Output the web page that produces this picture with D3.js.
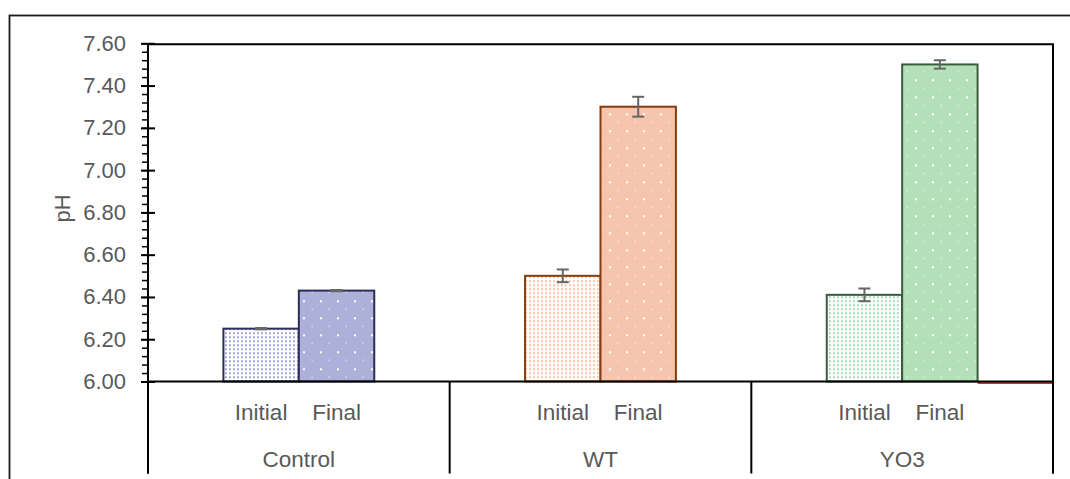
<!DOCTYPE html>
<html>
<head>
<meta charset="utf-8">
<script src="https://cdn.jsdelivr.net/npm/d3@7"></script>
<style>
  body { margin: 0; background: #fff; }
  svg { display: block; font-family: "Liberation Sans", Arial, sans-serif; }
  .tick-label, .cat-label, .axis-title { fill: #595959; }
</style>
</head>
<body>
<svg id="chart"></svg>
<script>
// Data
const categories = ['Control', 'WT', 'YO3'];
const seriesNames = ['Initial', 'Final'];
const initialValues = [6.25, 6.50, 6.41];
const finalValues = [6.43, 7.30, 7.50];
const initialErrors = [0.003, 0.03, 0.03];
const finalErrors = [0.003, 0.047, 0.02];
const yTicks = [6.00, 6.20, 6.40, 6.60, 6.80, 7.00, 7.20, 7.40, 7.60];
const yTickLabels = ['6.00', '6.20', '6.40', '6.60', '6.80', '7.00', '7.20', '7.40', '7.60'];

// Colours per category: outline, solid fill (Final), dot colour (Initial)
const strokeColors = ['#2b2f58', '#843c0c', '#385d3c'];
const fillColors = ['#adb0d8', '#f7c4ae', '#b3e0b9'];
const dotColors = ['#8f93c9', '#f4b899', '#96d3a0'];

class GroupedBarChart {

  constructor(_config) {
    this.config = {
      parentElement: _config.parentElement,
      containerWidth: _config.containerWidth || 1070,
      containerHeight: _config.containerHeight || 479,
      margin: _config.margin || {top: 43.3, right: 17, bottom: 97.5, left: 148},
      catDepth: _config.catDepth || 92
    };
    this.initVis();
  }

  initVis() {
    let vis = this;

    vis.width = vis.config.containerWidth - vis.config.margin.left - vis.config.margin.right;
    vis.height = vis.config.containerHeight - vis.config.margin.top - vis.config.margin.bottom;

    vis.svg = d3.select(vis.config.parentElement)
        .attr('width', vis.config.containerWidth)
        .attr('height', vis.config.containerHeight);

    // Outer chart border (runs off the right and bottom edges)
    vis.svg.append('rect')
        .attr('x', 9.5).attr('y', 15.5)
        .attr('width', 1200).attr('height', 600)
        .attr('fill', 'none')
        .attr('stroke', '#1a1a1a')
        .attr('stroke-width', 1.8);

    vis.defs = vis.svg.append('defs');

    vis.chart = vis.svg.append('g')
        .attr('transform', `translate(${vis.config.margin.left},${vis.config.margin.top})`);

    vis.yScale = d3.scaleLinear()
        .domain([yTicks[0], yTicks[yTicks.length - 1]])
        .range([vis.height, 0]);

    vis.xScale = d3.scaleBand()
        .domain(categories)
        .range([0, vis.width])
        .padding(0);

    vis.xInner = d3.scaleBand()
        .domain(seriesNames)
        .range([0, vis.xScale.bandwidth()])
        .paddingInner(0)
        .paddingOuter(1);

    vis.renderVis();
  }

  addPatterns() {
    let vis = this;
    categories.forEach((c, i) => {
      // Final: solid colour with sparse white dots
      const pf = vis.defs.append('pattern')
          .attr('id', `final-${i}`)
          .attr('patternUnits', 'userSpaceOnUse')
          .attr('width', 17).attr('height', 17);
      pf.append('rect').attr('width', 17).attr('height', 17).attr('fill', fillColors[i]);
      pf.append('rect').attr('x', 2).attr('y', 2).attr('width', 2).attr('height', 2).attr('fill', '#fff');
      pf.append('rect').attr('x', 10.5).attr('y', 10.5).attr('width', 1.3).attr('height', 1).attr('fill', '#fff');

      // Initial: white with dense coloured dots
      const pi = vis.defs.append('pattern')
          .attr('id', `initial-${i}`)
          .attr('patternUnits', 'userSpaceOnUse')
          .attr('width', 4).attr('height', 4);
      pi.append('rect').attr('width', 4).attr('height', 4).attr('fill', '#fff');
      pi.append('rect').attr('x', 1).attr('y', 1).attr('width', 1.8).attr('height', 1.8).attr('fill', dotColors[i]);
    });
  }

  renderVis() {
    let vis = this;
    vis.addPatterns();

    const y0 = vis.yScale(yTicks[0]);
    const yTop = vis.yScale(yTicks[yTicks.length - 1]);

    // Bars
    const bars = [];
    categories.forEach((c, i) => {
      bars.push({cat: c, ci: i, series: 'Initial', value: initialValues[i], err: initialErrors[i]});
      bars.push({cat: c, ci: i, series: 'Final', value: finalValues[i], err: finalErrors[i]});
    });

    const barX = d => vis.xScale(d.cat) + vis.xInner(d.series);

    vis.chart.selectAll('.bar')
        .data(bars)
      .join('rect')
        .attr('class', 'bar')
        .attr('x', barX)
        .attr('width', vis.xInner.bandwidth())
        .attr('y', d => vis.yScale(d.value))
        .attr('height', d => y0 - vis.yScale(d.value))
        .attr('fill', d => `url(#${d.series === 'Initial' ? 'initial' : 'final'}-${d.ci})`)
        .attr('stroke', d => strokeColors[d.ci])
        .attr('stroke-width', 2);

    // Error bars
    const capW = 6;
    const eb = vis.chart.selectAll('.err')
        .data(bars)
      .join('g')
        .attr('class', 'err')
        .attr('transform', d => `translate(${barX(d) + vis.xInner.bandwidth() / 2},0)`)
        .attr('stroke', '#666')
        .attr('stroke-width', 2);
    eb.append('line')
        .attr('y1', d => vis.yScale(d.value + d.err))
        .attr('y2', d => vis.yScale(d.value - d.err));
    eb.append('line')
        .attr('x1', -capW).attr('x2', capW)
        .attr('y1', d => vis.yScale(d.value + d.err))
        .attr('y2', d => vis.yScale(d.value + d.err));
    eb.append('line')
        .attr('x1', -capW).attr('x2', capW)
        .attr('y1', d => vis.yScale(d.value - d.err))
        .attr('y2', d => vis.yScale(d.value - d.err));

    // Stray red series at the right end of the baseline
    const lastCat = categories[categories.length - 1];
    vis.chart.append('line')
        .attr('x1', vis.xScale(lastCat) + vis.xInner('Final') + vis.xInner.bandwidth())
        .attr('x2', vis.width)
        .attr('y1', y0 + 1.5).attr('y2', y0 + 1.5)
        .attr('stroke', '#c0392b')
        .attr('stroke-width', 2);

    // Horizontal axis line at 6.00
    vis.chart.append('line')
        .attr('x1', 0).attr('x2', vis.width)
        .attr('y1', y0).attr('y2', y0)
        .attr('stroke', '#000').attr('stroke-width', 2);

    // Category axis: dividers and labels below the plot
    vis.chart.selectAll('.divider')
        .data([0, ...categories.map(c => vis.xScale(c) + vis.xScale.bandwidth())])
      .join('line')
        .attr('class', 'divider')
        .attr('x1', d => d).attr('x2', d => d)
        .attr('y1', y0).attr('y2', y0 + vis.config.catDepth)
        .attr('stroke', '#000').attr('stroke-width', 2);

    vis.chart.selectAll('.series-label')
        .data(bars)
      .join('text')
        .attr('class', 'cat-label series-label')
        .attr('x', d => barX(d) + vis.xInner.bandwidth() / 2)
        .attr('y', y0 + 31)
        .attr('dy', '0.35em')
        .attr('text-anchor', 'middle')
        .attr('font-size', 22.5)
        .text(d => d.series);

    vis.chart.selectAll('.group-label')
        .data(categories)
      .join('text')
        .attr('class', 'cat-label group-label')
        .attr('x', d => vis.xScale(d) + vis.xScale.bandwidth() / 2)
        .attr('y', y0 + 78)
        .attr('dy', '0.35em')
        .attr('text-anchor', 'middle')
        .attr('font-size', 22.5)
        .text(d => d);

    // Plot-area frame: top edge at 7.60 and right edge down through the category axis
    vis.chart.append('path')
        .attr('d', `M0,${yTop + 1}H${vis.width}V${y0 + vis.config.catDepth}`)
        .attr('fill', 'none')
        .attr('stroke', '#000').attr('stroke-width', 2);

    // Y axis: minor ticks, then major ticks crossing the line
    const minorTicks = d3.range(0, 41).map(k => 6 + k * 0.04);
    vis.chart.append('g')
        .call(d3.axisLeft(vis.yScale).tickValues(minorTicks).tickSize(6).tickFormat(''))
        .call(g => g.select('.domain').remove())
        .call(g => g.selectAll('line').attr('stroke', '#000').attr('stroke-width', 1.5));

    vis.yAxisG = vis.chart.append('g')
        .call(d3.axisLeft(vis.yScale)
          .tickValues(yTicks)
          .tickSize(7)
          .tickPadding(15)
          .tickFormat((d, i) => yTickLabels[i]));
    vis.yAxisG.select('.domain').remove();
    vis.yAxisG.selectAll('.tick line')
        .attr('x2', -7).attr('x1', 7)
        .attr('stroke', '#000').attr('stroke-width', 2);
    vis.yAxisG.selectAll('.tick text')
        .attr('class', 'tick-label')
        .attr('font-size', 22)
        .attr('font-family', '"Liberation Sans", Arial, sans-serif');

    vis.chart.append('line')
        .attr('x1', 0).attr('x2', 0)
        .attr('y1', yTop).attr('y2', y0 + vis.config.catDepth)
        .attr('stroke', '#000').attr('stroke-width', 2);

    // Axis title
    vis.svg.append('text')
        .attr('class', 'axis-title')
        .attr('transform', `translate(62,${vis.config.margin.top + vis.height * 0.5 - 4}) rotate(-90)`)
        .attr('text-anchor', 'middle')
        .attr('dy', '0.35em')
        .attr('font-size', 22)
        .text('pH');
  }
}

new GroupedBarChart({parentElement: '#chart'});
</script>
</body>
</html>
